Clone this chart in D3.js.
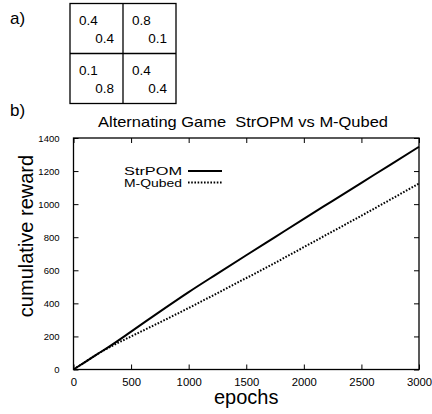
<!DOCTYPE html>
<html>
<head>
<meta charset="utf-8">
<script src="https://cdn.jsdelivr.net/npm/d3@7"></script>
<style>
  html, body { margin: 0; padding: 0; background: #fff; }
  svg { display: block; font-family: "Liberation Sans", Arial, sans-serif; }
  .pre { white-space: pre; }
</style>
</head>
<body>
<svg id="chart" width="432" height="414"></svg>
<script>
/* Payoff matrix (panel a) and cumulative reward curves (panel b). */

const payoffRow = [[0.4, 0.4], [0.8, 0.1]];   // top row: [row player, column player]
const payoffRow2 = [[0.1, 0.8], [0.4, 0.4]];  // bottom row

const epochs = [0, 100, 200, 300, 500, 750, 1000, 1250, 1500, 1750, 2000, 2250, 2500, 2750, 3000];
const strpom = [0, 45, 90, 134, 229, 350, 468, 580, 691, 801, 911, 1020, 1129, 1238, 1347];
const mqubed = [0, 45, 90, 130, 200, 285, 372, 462, 553, 645, 740, 835, 930, 1027, 1125];

const xTicks = [0, 500, 1000, 1500, 2000, 2500, 3000];
const yTicks = [0, 200, 400, 600, 800, 1000, 1200, 1400];

const seriesNames = ["StrPOM", "M-Qubed"];

const svg = d3.select("#chart");

/* ---------- panel a ---------- */

svg.append("text").attr("x", 10).attr("y", 24)
  .attr("font-size", 17).text("a)");

const box = { x: 70, y: 3.5, cw: 53, ch: 50 };
const matrix = [payoffRow, payoffRow2];
const mg = svg.append("g");
mg.append("rect")
  .attr("x", box.x).attr("y", box.y)
  .attr("width", box.cw * 2).attr("height", box.ch * 2)
  .attr("fill", "none").attr("stroke", "#000").attr("stroke-width", 1.3);
mg.append("line").attr("x1", box.x + box.cw).attr("x2", box.x + box.cw)
  .attr("y1", box.y).attr("y2", box.y + box.ch * 2).attr("stroke", "#000").attr("stroke-width", 1.3);
mg.append("line").attr("x1", box.x).attr("x2", box.x + box.cw * 2)
  .attr("y1", box.y + box.ch).attr("y2", box.y + box.ch).attr("stroke", "#000").attr("stroke-width", 1.3);

matrix.forEach((row, r) => {
  row.forEach((cell, c) => {
    const cx = box.x + c * box.cw, cy = box.y + r * box.ch;
    mg.append("text").attr("x", cx + 9).attr("y", cy + 21)
      .attr("font-size", 13.5).text(cell[0].toFixed(1));
    mg.append("text").attr("x", cx + box.cw - 9).attr("y", cy + 39)
      .attr("font-size", 13.5).attr("text-anchor", "end").text(cell[1].toFixed(1));
  });
});

/* ---------- panel b ---------- */

svg.append("text").attr("x", 10).attr("y", 116)
  .attr("font-size", 17).text("b)");

const m = { left: 73.5, right: 419, top: 138, bottom: 369.5 };
const x = d3.scaleLinear().domain([0, 3000]).range([m.left, m.right]);
const y = d3.scaleLinear().domain([0, 1400]).range([m.bottom, m.top]);

const TICK = 5;
const fmt = d3.format("d");
const ax = svg.append("g");

// inward ticks on all four sides (gnuplot style)
ax.append("g").attr("transform", `translate(0,${m.bottom})`)
  .call(d3.axisBottom(x).tickValues(xTicks).tickFormat(fmt).tickSizeInner(-TICK).tickSizeOuter(0).tickPadding(8))
  .call((g) => g.selectAll("text").attr("font-size", 11.3));
ax.append("g").attr("transform", `translate(0,${m.top})`)
  .call(d3.axisTop(x).tickValues(xTicks).tickSizeInner(-TICK).tickSizeOuter(0).tickFormat(""));
ax.append("g").attr("transform", `translate(${m.left},0)`)
  .call(d3.axisLeft(y).tickValues(yTicks).tickFormat(fmt).tickSizeInner(-TICK).tickSizeOuter(0).tickPadding(14))
  .call((g) => g.selectAll("text").attr("font-size", 9.5));
ax.append("g").attr("transform", `translate(${m.right},0)`)
  .call(d3.axisRight(y).tickValues(yTicks).tickSizeInner(-TICK).tickSizeOuter(0).tickFormat(""));

ax.selectAll(".domain").remove();
ax.selectAll("line").attr("stroke", "#000").attr("stroke-width", 1);
ax.selectAll("text").attr("fill", "#000").attr("font-family", "Liberation Sans, Arial, sans-serif");

svg.append("rect")
  .attr("x", m.left).attr("y", m.top)
  .attr("width", m.right - m.left).attr("height", m.bottom - m.top)
  .attr("fill", "none").attr("stroke", "#000").attr("stroke-width", 1.3);

const line = d3.line().x((d) => x(d[0])).y((d) => y(d[1])).curve(d3.curveMonotoneX);

svg.append("path").datum(d3.zip(epochs, mqubed))
  .attr("d", line).attr("fill", "none").attr("stroke", "#000")
  .attr("stroke-width", 2).attr("stroke-dasharray", "1.6,1.6");
svg.append("path").datum(d3.zip(epochs, strpom))
  .attr("d", line).attr("fill", "none").attr("stroke", "#000").attr("stroke-width", 2);

// title
svg.append("text").attr("class", "pre").attr("x", 98).attr("y", 127)
  .attr("font-size", 15).attr("textLength", 290).attr("lengthAdjust", "spacingAndGlyphs")
  .text("Alternating Game  StrOPM vs M-Qubed");

// legend
const legend = svg.append("g");
seriesNames.forEach((name, i) => {
  const ly = 171 + i * 11.5;
  legend.append("text").attr("x", 182).attr("y", ly + 4)
    .attr("font-size", 11).attr("text-anchor", "end")
    .attr("textLength", 58).attr("lengthAdjust", "spacingAndGlyphs")
    .text(name);
  legend.append("line").attr("x1", 188).attr("x2", 222).attr("y1", ly).attr("y2", ly)
    .attr("stroke", "#000").attr("stroke-width", 2)
    .attr("stroke-dasharray", i === 1 ? "1.6,1.6" : null);
});

// axis titles
svg.append("text").attr("x", (m.left + m.right) / 2).attr("y", 404)
  .attr("font-size", 20).attr("text-anchor", "middle").text("epochs");
svg.append("text").attr("transform", `translate(33,236) rotate(-90)`)
  .attr("font-size", 20).attr("text-anchor", "middle").text("cumulative reward");
</script>
</body>
</html>
